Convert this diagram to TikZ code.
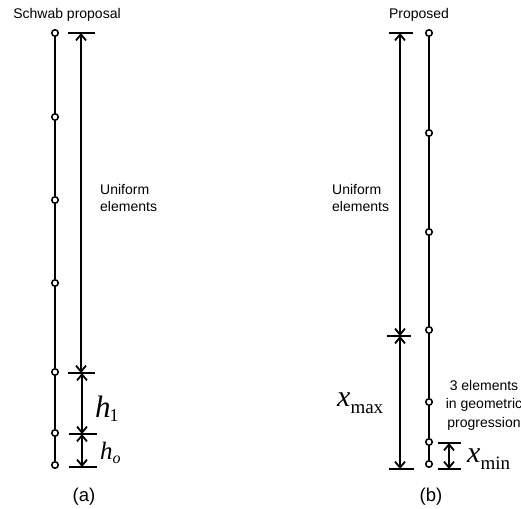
\documentclass[tikz,border=0pt]{standalone}
\usepackage{fontspec}
\setmainfont{Liberation Sans}
\newfontfamily\tms{Liberation Serif}
\usetikzlibrary{arrows.meta}
\begin{document}
\begin{tikzpicture}[x=1pt,y=-1pt,
  bar/.style={line width=2pt},
  dim/.style={line width=1.8pt,{Straight Barb[length=6pt,width=10pt]}-{Straight Barb[length=6pt,width=10pt]}},
  pt/.style={circle,draw,fill=white,line width=1.5pt,inner sep=0pt,minimum size=6.5pt},
  lab/.style={font=\fontsize{14}{18.5}\selectfont,inner sep=0pt},
  caplab/.style={font=\fontsize{18.5}{20}\selectfont,inner sep=0pt},
  mlab/.style={inner sep=0pt,anchor=base west},
]
\useasboundingbox (0,0) rectangle (521,508);
% ---------- (a) Schwab proposal ----------
\foreach \n/\y in {0/33,1/117,2/200,3/283,4/372,5/433,6/465}
  \node[pt] (a\n) at (55,\y) {};
\foreach \i/\j in {0/1,1/2,2/3,3/4,4/5,5/6}
  \draw[bar] (a\i) -- (a\j);
\coordinate (ta0) at (81,33);
\coordinate (ta1) at (81,373);
\coordinate (ta2) at (82,434);
\coordinate (ta3) at (82,467);
\draw[bar] (68,33) -- (95,33);
\draw[bar] (68,373) -- (95,373);
\draw[bar] (69,434) -- (97,434);
\draw[bar] (69,467) -- (97,467);
\draw[dim] (ta0) -- (ta1);
\draw[dim] (82,373) -- (ta2);
\draw[dim] (ta2) -- (ta3);
\node[lab,anchor=center] (ta) at (67,15) {Schwab proposal};
\node[lab,anchor=west,align=left] (ua) at (100,198) {Uniform\\[-2pt]elements};
\node[mlab] (h1) at (95,417) {\tms\fontsize{31}{31}\selectfont\itshape h\kern-1pt\raisebox{-4pt}{\fontsize{18}{18}\selectfont\upshape 1}};
\node[mlab] (h0) at (100,459) {\tms\fontsize{25}{25}\selectfont\itshape h\raisebox{-4pt}{\fontsize{16}{16}\selectfont o}};
\node[caplab] (capa) at (84,497) {(a)};
% ---------- (b) Proposed ----------
\foreach \n/\y in {0/33,1/133,2/232,3/330,4/402,5/442,6/464}
  \node[pt] (b\n) at (429,\y) {};
\foreach \i/\j in {0/1,1/2,2/3,3/4,4/5,5/6}
  \draw[bar] (b\i) -- (b\j);
\coordinate (tb0) at (400,33);
\coordinate (tb1) at (400,336);
\coordinate (tb2) at (400,469);
\draw[bar] (389,33) -- (413,33);
\draw[bar] (387,336) -- (411,336);
\draw[bar] (389,469) -- (414,469);
\draw[dim] (tb0) -- (tb1);
\draw[dim] (tb1) -- (tb2);
\coordinate (tc0) at (449,443);
\coordinate (tc1) at (449,469);
\draw[bar] (438,443) -- (461,443);
\draw[bar] (438,469) -- (461,469);
\draw[dim] (tc0) -- (tc1);
\node[lab,anchor=center] (tbt) at (419,15) {Proposed};
\node[lab,anchor=west,align=left] (ub) at (332,198) {Uniform\\[-2pt]elements};
\node[lab,anchor=center,align=center] (geo) at (484,405) {3 elements\\in geometric\\progression};
\node[mlab] (xmax) at (337,406) {\tms\fontsize{30}{30}\selectfont\itshape x\raisebox{-7pt}{\fontsize{19}{19}\selectfont\upshape max}};
\node[mlab] (xmin) at (467,462) {\tms\fontsize{30}{30}\selectfont\itshape x\raisebox{-7pt}{\fontsize{19}{19}\selectfont\upshape min}};
\node[caplab] (capb) at (431,497) {(b)};
\end{tikzpicture}
\end{document}
